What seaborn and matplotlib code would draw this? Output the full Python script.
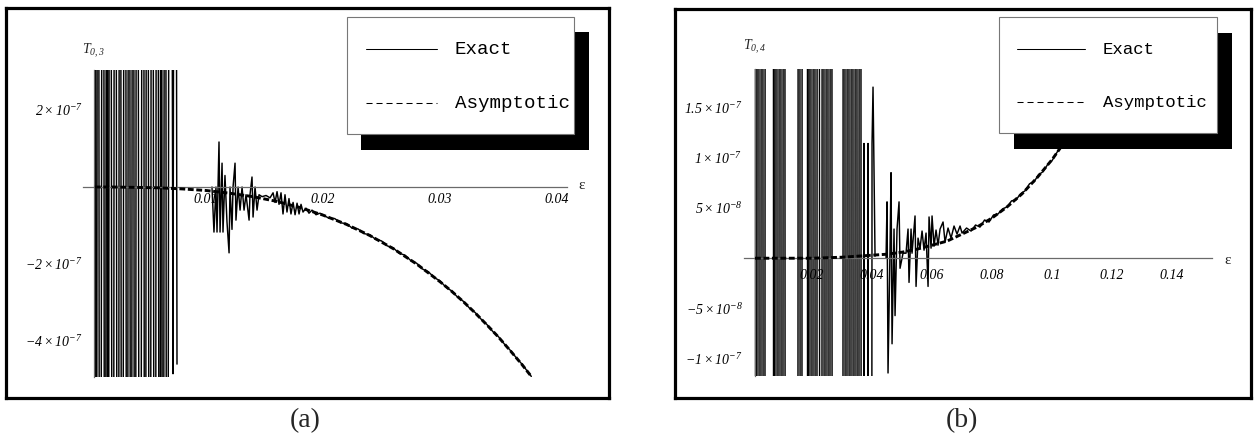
import numpy as np
import pandas as pd
import matplotlib
matplotlib.use("Agg")
import matplotlib.pyplot as plt
import seaborn as sns
from matplotlib.patches import Rectangle
from matplotlib.lines import Line2D
from matplotlib.ticker import FixedLocator

# ---------------- data (T in units of 1e-7) ----------------
legend_labels = ["Exact", "Asymptotic"]
panel_tags = ["(a)", "(b)"]
y_names = [r"$T_{0,3}$", r"$T_{0,4}$"]

# panel (a): T_{0,3}
a_spike_eps = [0.00051, 0.00060, 0.00077, 0.00094, 0.00120, 0.00137, 0.00154, 0.00162,
               0.00179, 0.00205, 0.00222, 0.00248, 0.00265, 0.00282, 0.00308, 0.00325,
               0.00342, 0.00359, 0.00376, 0.00393, 0.00410, 0.00436, 0.00462, 0.00479,
               0.00496, 0.00521, 0.00538, 0.00564, 0.00581, 0.00607, 0.00615, 0.00632,
               0.00650, 0.00667, 0.00692, 0.00718, 0.00735, 0.00752]
a_spike_T = [30, -30, 30, -30, 30, -30, 30, -30, 30, -30, 30, -30, 30, -30, 30, -30,
             30, -30, 30, -30, 30, -30, 30, -30, 30, -30, 30, -30, 30, -30, 30, -30,
             30, -30, 30, -4.85, 30, -4.6]
a_exact_eps = [0.01051, 0.01068, 0.01085, 0.01094, 0.01111, 0.01120, 0.01137, 0.01145,
               0.01162, 0.01179, 0.01197, 0.01205, 0.01222, 0.01231, 0.01248, 0.01256,
               0.01274, 0.01291, 0.01308, 0.01325, 0.01342, 0.01368, 0.01376, 0.01393,
               0.01402, 0.01419, 0.01436, 0.01453, 0.01479, 0.01513, 0.01547, 0.01573,
               0.01590, 0.01607, 0.01624, 0.01641, 0.01658, 0.01675, 0.01692, 0.01709,
               0.01726, 0.01744, 0.01761, 0.01778, 0.01795, 0.01812, 0.01829, 0.01855,
               0.01880, 0.01906, 0.01940, 0.01974, 0.0205, 0.021, 0.0215, 0.022, 0.0225,
               0.023, 0.0235, 0.024, 0.0245, 0.025, 0.0255, 0.026, 0.0265, 0.027, 0.0275,
               0.028, 0.0285, 0.029, 0.0295, 0.030, 0.0305, 0.031, 0.0315, 0.032, 0.0325,
               0.033, 0.0335, 0.034, 0.0345, 0.035, 0.0355, 0.036, 0.0365, 0.037, 0.0378]
a_exact_T = [0.0, -1.17, 0.0, -1.17, 1.17, -1.17, 0.62, -1.17, 0.3, -0.9, -1.71, 0.0,
             -1.1, 0.0, 0.62, -0.86, 0.0, -0.6, 0.0, -0.6, -0.2, -0.86, -0.2, 0.26,
             -0.78, 0.0, -0.6, -0.2, -0.25, -0.22, -0.28, -0.15, -0.4, -0.12, -0.45, -0.15,
             -0.7, -0.2, -0.65, -0.3, -0.7, -0.4, -0.72, -0.42, -0.7, -0.45, -0.65, -0.55,
             -0.68, -0.6, -0.72, -0.68, -0.81, -0.82, -0.93, -0.95, -1.07, -1.09, -1.21,
             -1.24, -1.36, -1.40, -1.53, -1.58, -1.72, -1.77, -1.91, -1.98, -2.13, -2.20,
             -2.35, -2.44, -2.60, -2.70, -2.86, -2.97, -3.14, -3.26, -3.43, -3.57, -3.75,
             -3.89, -4.08, -4.24, -4.43, -4.60, -4.92]
a_asym_eps = [0.0005, 0.002, 0.004, 0.006, 0.008, 0.010, 0.012, 0.014, 0.016, 0.018, 0.020,
              0.022, 0.024, 0.026, 0.028, 0.030, 0.031, 0.032, 0.033, 0.034, 0.035, 0.036,
              0.037, 0.0378]
a_asym_T = [0.0, 0.0, -0.01, -0.02, -0.05, -0.09, -0.16, -0.25, -0.37, -0.53, -0.73,
            -0.97, -1.26, -1.60, -2.00, -2.46, -2.71, -2.98, -3.27, -3.58, -3.90, -4.25,
            -4.61, -4.92]

# panel (b): T_{0,4}
b_spike_eps = [0.00100, 0.00133, 0.00200, 0.00267, 0.00333, 0.00400, 0.00467, 0.00700,
               0.00733, 0.00800, 0.00867, 0.00933, 0.01000, 0.01067, 0.01133, 0.01500,
               0.01567, 0.01633, 0.01700, 0.01833, 0.01867, 0.01933, 0.02000, 0.02067,
               0.02133, 0.02200, 0.02300, 0.02367, 0.02433, 0.02500, 0.02567, 0.02633,
               0.02700, 0.03000, 0.03067, 0.03133, 0.03200, 0.03267, 0.03333, 0.03400,
               0.03467, 0.03533, 0.03600, 0.03667, 0.03733, 0.03800, 0.03867, 0.03933,
               0.04000, 0.04033, 0.04100]
b_spike_T = [30, -30, 30, -30, 30, -30, 30, 30, -30, 30, -30, 30, -30, 30, -30, -30,
             30, -30, 30, 30, -30, 30, -30, 30, -30, 30, -30, 30, -30, 30, -30, 30,
             -30, -30, 30, -30, 30, -30, 30, -30, 30, -30, 30, -30, 1.14, -30, 1.14, -30,
             1.14, 1.70, 0.02]
b_exact_eps = [0.04467, 0.04500, 0.04533, 0.04600, 0.04633, 0.04667, 0.04733, 0.04767,
               0.04833, 0.04900, 0.04933, 0.05033, 0.05133, 0.05200, 0.05233, 0.05300,
               0.05333, 0.05433, 0.05467, 0.05533, 0.05600, 0.05667, 0.05733, 0.05800,
               0.05867, 0.05900, 0.05967, 0.06000, 0.06067, 0.06133, 0.06200, 0.06267,
               0.06367, 0.06433, 0.06533, 0.06633, 0.06733, 0.06833, 0.06933, 0.0700,
               0.0715, 0.0730, 0.0745, 0.0760, 0.0775, 0.0790, 0.0805, 0.0820, 0.0835,
               0.0850, 0.0865, 0.0880, 0.0895, 0.0910, 0.0925, 0.0940, 0.0955, 0.0970,
               0.0985, 0.1000, 0.1020, 0.1040, 0.1060, 0.1080, 0.1100, 0.1120, 0.1140,
               0.1160, 0.1180, 0.1200]
b_exact_T = [0.0, 0.56, -1.14, 0.1, 0.85, -0.85, 0.29, -0.57, 0.29, 0.56, -0.1, 0.05,
             0.05, 0.29, -0.24, 0.29, 0.05, 0.42, -0.28, 0.2, 0.1, 0.27, 0.08, 0.25,
             -0.28, 0.41, 0.1, 0.42, 0.12, 0.28, 0.13, 0.29, 0.36, 0.16, 0.3, 0.2,
             0.32, 0.24, 0.32, 0.25, 0.30, 0.27, 0.33, 0.31, 0.38, 0.36, 0.43, 0.44,
             0.49, 0.51, 0.57, 0.58, 0.64, 0.67, 0.74, 0.76, 0.83, 0.86, 0.93, 0.97,
             1.07, 1.15, 1.25, 1.33, 1.43, 1.54, 1.66, 1.78, 1.90, 2.03]
b_asym_eps = [0.001, 0.01, 0.02, 0.03, 0.04, 0.045, 0.05, 0.055, 0.06, 0.065, 0.07,
              0.075, 0.08, 0.085, 0.09, 0.095, 0.1, 0.105, 0.11, 0.115, 0.12]
b_asym_T = [0.0, 0.0, 0.0, 0.01, 0.03, 0.04, 0.06, 0.09, 0.13, 0.17, 0.24, 0.31, 0.40,
            0.51, 0.64, 0.80, 0.98, 1.19, 1.43, 1.71, 2.03]

# tick values and labels
a_xticks = [0.01, 0.02, 0.03, 0.04]
a_xticklabels = ["0.01", "0.02", "0.03", "0.04"]
a_yticks = [-4e-7, -2e-7, 2e-7]
a_yticklabels = [r"$-4\times10^{-7}$", r"$-2\times10^{-7}$", r"$2\times10^{-7}$"]
b_xticks = [0.02, 0.04, 0.06, 0.08, 0.10, 0.12, 0.14]
b_xticklabels = ["0.02", "0.04", "0.06", "0.08", "0.1", "0.12", "0.14"]
b_yticks = [-1e-7, -5e-8, 5e-8, 1e-7, 1.5e-7]
b_yticklabels = [r"$-1\times10^{-7}$", r"$-5\times10^{-8}$", r"$5\times10^{-8}$",
                 r"$1\times10^{-7}$", r"$1.5\times10^{-7}$"]

# ---------------- style ----------------
sns.set_theme(style="white")
plt.rcParams["font.family"] = ["Liberation Serif", "DejaVu Serif"]
plt.rcParams["mathtext.fontset"] = "custom"
plt.rcParams["mathtext.rm"] = "Liberation Serif:italic"
plt.rcParams["mathtext.it"] = "Liberation Serif:italic"
plt.rcParams["mathtext.bf"] = "Liberation Serif:italic"

W, H = 1256, 437
fig = plt.figure(figsize=(W / 100, H / 100), dpi=100)
fig.patch.set_facecolor("white")
AXIS_GRAY = "#6a6a6a"


def box(l, t, r, b):
    return [l / W, 1 - b / H, (r - l) / W, (b - t) / H]


def fx(x):
    return x / W


def fy(y):
    return 1 - y / H


def draw_panel(frame_px, axes_px, xlim, ylim, y_axis_at, segments, asym_eps, asym_T,
               xticks, xlabels, xminor, yticks, ylabels, yminor, xpad, ypad):
    frame = fig.add_axes(box(*frame_px))
    frame.set_xticks([])
    frame.set_yticks([])
    frame.set_facecolor("white")
    for s in frame.spines.values():
        s.set_visible(True)
        s.set_color("black")
        s.set_linewidth(2.3)
    frame.set_zorder(0)

    ax = fig.add_axes(box(*axes_px))
    ax.set_zorder(1)
    ax.patch.set_visible(False)

    df = pd.concat([pd.DataFrame({"eps": e, "T": np.asarray(t) * 1e-7, "seg": i})
                    for i, (e, t) in enumerate(segments)], ignore_index=True)
    sns.lineplot(data=df, x="eps", y="T", units="seg", estimator=None, sort=False,
                 color="black", lw=1.05, ax=ax, zorder=2)
    sns.lineplot(x=asym_eps, y=np.asarray(asym_T) * 1e-7, estimator=None, sort=False,
                 color="black", lw=2.1, ax=ax, zorder=3)
    ax.lines[-1].set_linestyle((0, (2.0, 0.9)))

    ax.set_xlim(*xlim)
    ax.set_ylim(*ylim)
    ax.set_xlabel("")
    ax.set_ylabel("")
    ax.spines["top"].set_visible(False)
    ax.spines["right"].set_visible(False)
    ax.spines["left"].set_position(("data", y_axis_at))
    ax.spines["bottom"].set_position(("data", 0))
    for k in ("left", "bottom"):
        ax.spines[k].set_visible(True)
        ax.spines[k].set_color(AXIS_GRAY)
        ax.spines[k].set_linewidth(0.9)

    ax.set_xticks(xticks, labels=xlabels)
    ax.xaxis.set_minor_locator(FixedLocator(xminor))
    ax.set_yticks(yticks, labels=ylabels)
    ax.yaxis.set_minor_locator(FixedLocator(yminor))
    ax.tick_params(which="both", direction="in", color=AXIS_GRAY, width=0.7,
                   labelsize=10, labelcolor="black")
    ax.tick_params(which="major", length=3.4)
    ax.tick_params(which="minor", length=2.0)
    ax.tick_params(axis="x", which="major", pad=xpad)
    ax.tick_params(axis="y", which="major", pad=ypad)
    for lab in ax.get_xticklabels():
        lab.set_fontstyle("italic")
    return ax


def draw_legend(box_px, shadow_px, line_x, text_x, rows_y, size):
    l, t, r, b = shadow_px
    fig.add_artist(Rectangle((fx(l), fy(b)), (r - l) / W, (b - t) / H,
                             transform=fig.transFigure, facecolor="black",
                             edgecolor="none", zorder=5))
    l, t, r, b = box_px
    fig.add_artist(Rectangle((fx(l), fy(b)), (r - l) / W, (b - t) / H,
                             transform=fig.transFigure, facecolor="white",
                             edgecolor="#777777", lw=0.8, zorder=6))
    styles = ["-", (0, (5.8, 3.8))]
    for y, label, ls in zip(rows_y, legend_labels, styles):
        fig.add_artist(Line2D([fx(line_x[0]), fx(line_x[1])], [fy(y), fy(y)],
                              transform=fig.transFigure, color="black", lw=0.75,
                              linestyle=ls, zorder=7))
        fig.text(fx(text_x), fy(y + 5), label, family="Liberation Mono",
                 fontsize=size, va="baseline", ha="left", color="black", zorder=7)


# panel (a)
a_xminor = [v for v in np.arange(0.002, 0.0405, 0.002) if min(abs(v - m) for m in a_xticks) > 1e-6]
a_yminor = [v for v in np.arange(-4.5e-7, 3.01e-7, 0.5e-7) if abs(v) > 1e-12]
draw_panel((6, 8, 609, 398), (83, 70, 567, 377), (-0.000513, 0.04085), (-4.935e-7, 3.04e-7),
           0.00043, [(a_spike_eps, a_spike_T), (a_exact_eps, a_exact_T)],
           a_asym_eps, a_asym_T, a_xticks, a_xticklabels, a_xminor,
           a_yticks, a_yticklabels, a_yminor, 4.0, 8.0)

# panel (b)
b_xminor = [v for v in np.arange(0.005, 0.1535, 0.005) if min(abs(v - m) for m in b_xticks) > 1e-6]
b_yminor = [v for v in np.arange(-1.1e-7, 1.85e-7, 1e-8) if abs(v) > 1e-12]
draw_panel((674.5, 9, 1250.5, 398), (744, 69, 1212, 376), (-0.00267, 0.1533), (-1.17e-7, 1.88e-7),
           0.001, [(b_spike_eps, b_spike_T), (b_exact_eps, b_exact_T)],
           b_asym_eps, b_asym_T, b_xticks, b_xticklabels, b_xminor,
           b_yticks, b_yticklabels, b_yminor, 8.0, 9.0)

# axis names and panel tags
fig.text(fx(582), fy(185), "ε", fontsize=11, ha="center", va="center", zorder=4)
fig.text(fx(1228), fy(261), "ε", fontsize=11, ha="center", va="center", zorder=4)
fig.text(fx(93), fy(51), y_names[0], fontsize=10, ha="center", va="center", zorder=4)
fig.text(fx(755), fy(47), y_names[1], fontsize=10, ha="center", va="center", zorder=4)
fig.text(fx(305), fy(421), panel_tags[0], fontsize=20, ha="center", va="center")
fig.text(fx(962), fy(421), panel_tags[1], fontsize=20, ha="center", va="center")

# legends with drop shadow
draw_legend((347, 17, 574, 134), (361, 32, 589, 150), (366, 437), 455, (49.3, 103.3), 13.8)
draw_legend((999, 17, 1217, 133), (1014, 33, 1232, 149), (1017, 1085), 1103, (49, 102), 12.5)

fig.savefig("out.png", dpi=100, facecolor="white")
